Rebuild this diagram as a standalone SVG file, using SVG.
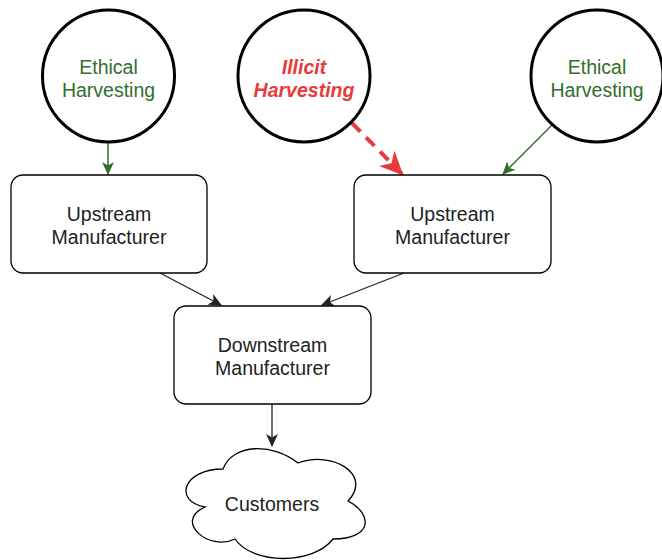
<svg xmlns="http://www.w3.org/2000/svg" width="662" height="560" viewBox="0 0 662 560">
<style>
.node{fill:#fff;stroke:#000;stroke-width:1.3}
.circ{fill:#fff;stroke:#000;stroke-width:3}
text{font-family:"Liberation Sans",Arial,sans-serif;font-size:19.5px;text-anchor:middle;fill:#222}
.green{fill:#2f6f2a}
.red{fill:#e83a3a;font-weight:bold;font-style:italic}
.c{fill:none;stroke:#222;stroke-width:1.3}
.cg{fill:none;stroke:#2f6f2a;stroke-width:1.5}
.cr{fill:none;stroke:#e83a3a;stroke-width:4;stroke-dasharray:12 8}
</style>
<defs>
<marker id="ab" markerWidth="13" markerHeight="12" refX="12" refY="6" orient="auto" markerUnits="userSpaceOnUse"><path d="M0,0 L13,6 L0,12 L3.5,6 Z" fill="#222"/></marker>
<marker id="ag" markerWidth="13" markerHeight="12" refX="12" refY="6" orient="auto" markerUnits="userSpaceOnUse"><path d="M0,0 L13,6 L0,12 L3.5,6 Z" fill="#2f6f2a"/></marker>
<marker id="ar" markerWidth="24" markerHeight="22" refX="22" refY="11" orient="auto" markerUnits="userSpaceOnUse"><path d="M0,0 L24,11 L0,22 L7,11 Z" fill="#e83a3a"/></marker>
</defs>
<g id="connectors">
<line class="cg" x1="108" y1="142" x2="108" y2="174" marker-end="url(#ag)"/>
<line class="cr" x1="352" y1="123" x2="402" y2="174" marker-end="url(#ar)"/>
<line class="cg" x1="553" y1="124" x2="503" y2="174" marker-end="url(#ag)"/>
<line class="c" x1="160" y1="273" x2="221" y2="305" marker-end="url(#ab)"/>
<line class="c" x1="404" y1="273" x2="322" y2="305" marker-end="url(#ab)"/>
<line class="c" x1="272" y1="404" x2="272" y2="446" marker-end="url(#ab)"/>
</g>
<g id="ethical1">
<circle class="circ" cx="108.5" cy="76" r="66"/>
<text class="green" x="108.5" y="74">Ethical</text>
<text class="green" x="108.5" y="97">Harvesting</text>
</g>
<g id="illicit">
<circle class="circ" cx="304" cy="76" r="66"/>
<text class="red" x="304" y="74">Illicit</text>
<text class="red" x="304" y="97">Harvesting</text>
</g>
<g id="ethical2">
<circle class="circ" cx="597" cy="76" r="66"/>
<text class="green" x="597" y="74">Ethical</text>
<text class="green" x="597" y="97">Harvesting</text>
</g>
<g id="upstream1">
<rect class="node" x="11" y="175" width="196" height="98" rx="12"/>
<text x="109" y="221">Upstream</text>
<text x="109" y="244">Manufacturer</text>
</g>
<g id="upstream2">
<rect class="node" x="354" y="175" width="197" height="98" rx="12"/>
<text x="452.5" y="221">Upstream</text>
<text x="452.5" y="244">Manufacturer</text>
</g>
<g id="downstream">
<rect class="node" x="174" y="306" width="197" height="98" rx="12"/>
<text x="272.5" y="352">Downstream</text>
<text x="272.5" y="375">Manufacturer</text>
</g>
<g id="customers">
<path class="node" d="M223,469 C183,469 173,501 205,507 C173,521 209,552 235,539 C253,565 313,565 333,539 C373,539 373,514 348,501 C373,475 333,450 298,463 C273,443 233,443 223,469 Z"/>
<text x="272" y="511">Customers</text>
</g>
</svg>
